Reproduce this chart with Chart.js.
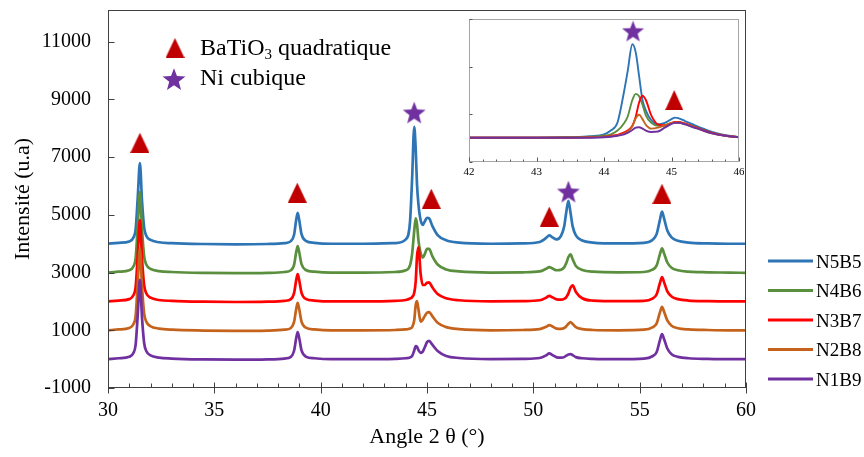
<!DOCTYPE html>
<html><head><meta charset="utf-8">
<script src="https://cdn.jsdelivr.net/npm/chart.js@4.4.0/dist/chart.umd.min.js"></script>
<style>
html,body{margin:0;padding:0;background:#fff;}
#wrap{position:relative;width:864px;height:457px;overflow:hidden;}
#main{position:absolute;left:0;top:0;}
#inset{position:absolute;left:440px;top:12px;}
</style></head><body>
<div id="wrap"><canvas id="main" width="864" height="457"></canvas><canvas id="inset" width="304" height="175"></canvas></div>
<script>
// ---------- DATA (main chart) ----------
const angles = [
 30.0, 30.5, 31.0, 31.2, 31.3, 31.4, 31.5, 31.6, 31.7, 31.8, 32.0, 32.4, 33.0, 34.5, 36.0,
 37.5, 38.3, 38.6, 38.75, 38.85, 38.92, 39.0, 39.1, 39.3, 39.7, 40.5,
 42.0, 43.5, 44.0, 44.2, 44.3, 44.4, 44.47, 44.53, 44.6, 44.7, 44.8, 44.9, 45.0, 45.1, 45.25, 45.5, 45.9, 46.5, 48.0, 49.5,
 50.3, 50.6, 50.75, 50.9, 51.1, 51.3, 51.45, 51.55, 51.65, 51.75, 51.85, 52.0, 52.3, 52.8, 54.0,
 55.2, 55.6, 55.8, 55.95, 56.05, 56.15, 56.3, 56.5, 56.8, 57.3, 58.2, 59.2, 60.0
];
const n5b5 = [
 4000, 4030, 4080, 4220, 4500, 5620, 6790, 5480, 4560, 4280, 4130, 4050, 4020, 3990, 3980,
 3990, 4020, 4090, 4310, 4830, 5070, 4780, 4330, 4100, 4030, 4000,
 4000, 4020, 4150, 4750, 6250, 8050, 7250, 6050, 5350, 4820, 4650, 4780, 4900, 4880, 4620, 4300, 4120, 4040, 4000, 4010,
 4060, 4200, 4290, 4220, 4150, 4270, 4600, 5100, 5490, 5070, 4600, 4290, 4110, 4040, 4010,
 4030, 4130, 4340, 4820, 5110, 4870, 4460, 4220, 4100, 4040, 4010, 4000, 4000
];
const n4b6 = [
 3000, 3030, 3080, 3220, 3500, 4620, 5800, 4470, 3560, 3280, 3130, 3050, 3020, 2990, 2980,
 2990, 3020, 3080, 3270, 3710, 3920, 3670, 3290, 3090, 3030, 3000,
 3000, 3020, 3080, 3250, 3650, 4450, 4880, 4680, 4100, 3680, 3520, 3650, 3820, 3820, 3570, 3280, 3110, 3040, 3000, 3010,
 3040, 3130, 3190, 3140, 3080, 3100, 3180, 3330, 3540, 3630, 3460, 3230, 3090, 3030, 3010,
 3020, 3100, 3250, 3630, 3840, 3660, 3350, 3170, 3080, 3030, 3010, 3000, 2990
];
const n3b7 = [
 2000, 2030, 2080, 2220, 2500, 3620, 4820, 3470, 2560, 2280, 2130, 2050, 2020, 1990, 1980,
 1990, 2020, 2080, 2290, 2740, 2950, 2700, 2300, 2090, 2030, 2000,
 2000, 2020, 2050, 2100, 2150, 2300, 2700, 3550, 3880, 2960, 2570, 2570, 2650, 2660, 2490, 2260, 2110, 2040, 2000, 2010,
 2040, 2130, 2190, 2140, 2070, 2060, 2090, 2150, 2280, 2480, 2560, 2330, 2110, 2030, 2010,
 2020, 2100, 2250, 2630, 2840, 2660, 2350, 2170, 2080, 2030, 2010, 2000, 2000
];
const n2b8 = [
 1000, 1030, 1080, 1220, 1500, 2660, 3840, 2500, 1580, 1300, 1140, 1060, 1020, 990, 980,
 990, 1020, 1080, 1290, 1740, 1950, 1700, 1300, 1090, 1030, 1000,
 1000, 1010, 1030, 1060, 1110, 1350, 1880, 2010, 1720, 1300, 1370, 1500, 1610, 1630, 1490, 1260, 1110, 1040, 1000, 1010,
 1040, 1120, 1180, 1130, 1060, 1050, 1080, 1140, 1230, 1280, 1220, 1110, 1040, 1010, 1000,
 1020, 1100, 1240, 1610, 1810, 1640, 1340, 1160, 1070, 1030, 1010, 1000, 1000
];
const n1b9 = [
 0, 30, 80, 220, 500, 1560, 2750, 1430, 560, 280, 130, 50, 20, -10, -20,
 -10, 20, 80, 290, 730, 940, 700, 300, 90, 30, 0,
 0, 10, 30, 60, 110, 300, 450, 430, 310, 220, 260, 420, 590, 630, 500, 280, 110, 40, 0, 10,
 40, 130, 200, 140, 60, 50, 70, 120, 160, 175, 140, 70, 30, 10, 0,
 20, 100, 250, 650, 870, 690, 370, 170, 80, 30, 10, 0, 0
];
const seriesNames = ['N5B5', 'N4B6', 'N3B7', 'N2B8', 'N1B9'];
const xTicks = [30, 35, 40, 45, 50, 55, 60];
const yTicks = [-1000, 1000, 3000, 5000, 7000, 9000, 11000];
// peak markers (BaTiO3 triangles, Ni stars)
const batioX = [31.5, 38.9, 45.2, 50.75, 56.05];
const batioY = [7500, 5770, 5560, 4940, 5730];
const niX = [44.4, 51.65];
const niY = [8550, 5810];

// ---------- DATA (inset, 42-46 deg) ----------
const insetAngles = [42.0, 42.5, 43.0, 43.5, 43.8, 44.0, 44.1, 44.2, 44.3, 44.35, 44.42, 44.47, 44.52, 44.57, 44.62, 44.7, 44.8, 44.9, 45.0, 45.05, 45.1, 45.2, 45.3, 45.45, 45.6, 45.8, 46.0];
const insN5B5 = [0.51, 0.51, 0.51, 0.52, 0.54, 0.58, 0.66, 0.83, 1.50, 1.90, 2.47, 2.30, 1.80, 1.30, 1.08, 0.88, 0.79, 0.82, 0.90, 0.93, 0.92, 0.86, 0.80, 0.71, 0.63, 0.56, 0.52];
const insN4B6 = [0.51, 0.51, 0.51, 0.52, 0.53, 0.55, 0.58, 0.66, 0.82, 0.95, 1.30, 1.43, 1.38, 1.20, 0.98, 0.82, 0.76, 0.76, 0.81, 0.83, 0.83, 0.80, 0.76, 0.68, 0.61, 0.55, 0.52];
const insN3B7 = [0.51, 0.51, 0.51, 0.51, 0.52, 0.53, 0.55, 0.57, 0.62, 0.66, 0.76, 0.95, 1.25, 1.39, 1.30, 0.98, 0.79, 0.77, 0.82, 0.84, 0.84, 0.81, 0.76, 0.68, 0.61, 0.55, 0.52];
const insN2B8 = [0.51, 0.51, 0.51, 0.51, 0.52, 0.53, 0.54, 0.56, 0.60, 0.64, 0.75, 0.92, 0.99, 0.90, 0.78, 0.70, 0.72, 0.77, 0.82, 0.83, 0.83, 0.80, 0.75, 0.67, 0.60, 0.55, 0.52];
const insN1B9 = [0.51, 0.51, 0.51, 0.51, 0.51, 0.52, 0.53, 0.55, 0.58, 0.61, 0.67, 0.72, 0.73, 0.70, 0.66, 0.63, 0.64, 0.72, 0.80, 0.82, 0.82, 0.79, 0.74, 0.67, 0.60, 0.55, 0.52];
const insetXTicks = [42, 43, 44, 45, 46];
const insetYTicks = [0, 1, 2, 3];
const insetStarX = [44.43], insetStarY = [2.75];
const insetTriX = [45.04], insetTriY = [1.30];

// ---------- STYLE ----------
const FONT = "'Liberation Serif', 'Times New Roman', serif";
const colors = ['#2E75B6', '#5A8F3E', '#FF0000', '#C5621C', '#7030A0'];
const TRI_COLOR = '#C00000', STAR_COLOR = '#7030A0';

function makeTriangle(w, h, color) {
  const c = document.createElement('canvas'); c.width = w; c.height = h;
  const g = c.getContext('2d'); g.fillStyle = color;
  g.beginPath(); g.moveTo(w / 2, 0); g.lineTo(w, h); g.lineTo(0, h); g.closePath(); g.fill();
  return c;
}
function makeStar(size, color) {
  const c = document.createElement('canvas'); c.width = size; c.height = size;
  const g = c.getContext('2d'); g.fillStyle = color;
  const R = size / 2, r = R * 0.42, cx = size / 2, cy = size / 2 + R * 0.1;
  g.beginPath();
  for (let i = 0; i < 10; i++) {
    const rad = (i % 2 === 0) ? R : r;
    const ang = -Math.PI / 2 + i * Math.PI / 5;
    const px = cx + rad * Math.cos(ang), py = cy + rad * Math.sin(ang);
    if (i === 0) g.moveTo(px, py); else g.lineTo(px, py);
  }
  g.closePath(); g.fill();
  return c;
}
const triImg = makeTriangle(19, 20, TRI_COLOR);
const starImg = makeStar(24, STAR_COLOR);
const triImgSmall = makeTriangle(18, 20, TRI_COLOR);
const starImgSmall = makeStar(23, STAR_COLOR);
const triLegend = makeTriangle(19, 20, TRI_COLOR);
const starLegend = makeStar(24, STAR_COLOR);

const pts = (xs, ys) => xs.map((v, i) => ({ x: v, y: ys[i] }));
const noPadX = s => { s.paddingLeft = 0; s.paddingRight = 0; };
const noPadY = s => { s.paddingTop = 0; s.paddingBottom = 0; };

// ---------- MAIN CHART ----------
const mainSeries = [n5b5, n4b6, n3b7, n2b8, n1b9];
const mainDatasets = mainSeries.map((vals, i) => ({
  type: 'line', label: seriesNames[i], data: pts(angles, vals),
  borderColor: colors[i], backgroundColor: colors[i], borderWidth: 2.7,
  pointRadius: 0, cubicInterpolationMode: 'monotone', order: 4 - i + 1
}));
mainDatasets.push({
  type: 'scatter', label: 'BaTiO3', data: pts(batioX, batioY), pointStyle: triImg,
  pointRadius: 10, order: 0, clip: false
});
mainDatasets.push({
  type: 'scatter', label: 'Ni', data: pts(niX, niY), pointStyle: starImg,
  pointRadius: 12, order: 0, clip: false
});

const mainDeco = {
  id: 'mainDeco',
  afterDraw(chart) {
    const { ctx, chartArea: a, scales: { x, y } } = chart;
    ctx.save();
    ctx.strokeStyle = '#404040'; ctx.lineWidth = 1;
    const L = Math.round(a.left) + 0.5, R = Math.round(a.right) - 0.5;
    const T = Math.round(a.top) + 0.5, B = Math.round(a.bottom) - 0.5;
    ctx.strokeRect(L, T, R - L, B - T);
    ctx.beginPath();
    yTicks.forEach(v => { const p = Math.round(y.getPixelForValue(v)) + 0.5; ctx.moveTo(L, p); ctx.lineTo(L + 6, p); });
    for (let v = x.min; v <= x.max; v += 1) {
      const p = Math.round(x.getPixelForValue(v)) + 0.5;
      if (v % 5 === 0) { ctx.moveTo(p, B - 5); ctx.lineTo(p, B + 6); }
      else { ctx.moveTo(p, B - 4); ctx.lineTo(p, B); }
    }
    ctx.stroke();
    // series legend (right)
    ctx.font = '19px ' + FONT; ctx.fillStyle = '#000'; ctx.textBaseline = 'alphabetic';
    seriesNames.forEach((name, i) => {
      const yy = 261 + i * 29.5;
      ctx.strokeStyle = colors[i]; ctx.lineWidth = 3;
      ctx.beginPath(); ctx.moveTo(768, yy); ctx.lineTo(813, yy); ctx.stroke();
      ctx.fillText(name, 816, yy + 6.5);
    });
    // marker legend (top-left)
    ctx.drawImage(triLegend, 175 - 9.5, 48 - 10);
    ctx.drawImage(starLegend, 174 - 12, 79 - 12);
    ctx.font = '24px ' + FONT;
    ctx.fillText('BaTiO', 200, 55);
    let w = ctx.measureText('BaTiO').width;
    ctx.font = '15px ' + FONT;
    ctx.fillText('3', 200 + w, 59);
    w += ctx.measureText('3').width;
    ctx.font = '24px ' + FONT;
    ctx.fillText(' quadratique', 200 + w, 55);
    ctx.fillText('Ni cubique', 200, 85);
    ctx.restore();
  }
};

new Chart(document.getElementById('main'), {
  data: { datasets: mainDatasets },
  options: {
    responsive: false, animation: false,
    layout: { autoPadding: false, padding: { top: 10, right: 118, left: 0, bottom: 0 } },
    plugins: { legend: { display: false }, tooltip: { enabled: false } },
    scales: {
      x: {
        type: 'linear', min: 30, max: 60,
        afterBuildTicks: s => { s.ticks = xTicks.map(v => ({ value: v })); },
        afterFit: s => { s.height = 69; noPadX(s); },
        grid: { display: false, drawTicks: false }, border: { display: false },
        ticks: { font: { family: FONT, size: 20 }, color: '#000', padding: 11, maxRotation: 0, autoSkip: false, callback: v => String(v) },
        title: { display: true, text: 'Angle 2 θ (°)', font: { family: FONT, size: 22 }, color: '#000', padding: { top: 0, bottom: 7 } }
      },
      y: {
        type: 'linear', min: -1000, max: 12100,
        afterBuildTicks: s => { s.ticks = yTicks.map(v => ({ value: v })); },
        afterFit: s => { s.width = 108; noPadY(s); },
        grid: { display: false, drawTicks: false }, border: { display: false },
        ticks: { font: { family: FONT, size: 20 }, color: '#000', padding: 17, autoSkip: false, callback: v => String(v) },
        title: { display: true, text: 'Intensité (u.a)', font: { family: FONT, size: 22 }, color: '#000', padding: { top: 10, bottom: 0 } }
      }
    }
  },
  plugins: [mainDeco]
});

// ---------- INSET CHART ----------
const insetSeries = [insN5B5, insN4B6, insN3B7, insN2B8, insN1B9];
const insetDatasets = insetSeries.map((vals, i) => ({
  type: 'line', label: seriesNames[i], data: pts(insetAngles, vals),
  borderColor: colors[i], backgroundColor: colors[i], borderWidth: 1.9,
  pointRadius: 0, cubicInterpolationMode: 'monotone', order: 4 - i + 1
}));
insetDatasets.push({ type: 'scatter', data: pts(insetStarX, insetStarY), pointStyle: starImgSmall, pointRadius: 11, order: 0, clip: false });
insetDatasets.push({ type: 'scatter', data: pts(insetTriX, insetTriY), pointStyle: triImgSmall, pointRadius: 10, order: 0, clip: false });

const insetDeco = {
  id: 'insetDeco',
  beforeDatasetsDraw(chart) {
    const { ctx, chartArea: a } = chart;
    ctx.save(); ctx.fillStyle = '#fff'; ctx.fillRect(a.left, a.top, a.right - a.left, a.bottom - a.top); ctx.restore();
  },
  afterDraw(chart) {
    const { ctx, chartArea: a, scales: { x, y } } = chart;
    ctx.save();
    const L = Math.round(a.left) + 0.5, R = Math.round(a.right) - 0.5;
    const T = Math.round(a.top) + 0.5, B = Math.round(a.bottom) - 0.5;
    ctx.strokeStyle = '#A6A6A6'; ctx.lineWidth = 1;
    ctx.strokeRect(L, T, R - L, B - T);
    ctx.strokeStyle = '#595959';
    ctx.beginPath();
    for (let k = 0; k <= 20; k++) {
      const v = x.min + k * 0.2;
      const p = Math.round(x.getPixelForValue(v)) + 0.5;
      const len = (k % 5 === 0) ? 4 : 2;
      ctx.moveTo(p, B); ctx.lineTo(p, B - len);
    }
    insetYTicks.forEach(v => { const p = Math.round(y.getPixelForValue(v)) + 0.5; ctx.moveTo(L, p); ctx.lineTo(L + 3, p); });
    ctx.stroke();
    ctx.restore();
  }
};

new Chart(document.getElementById('inset'), {
  data: { datasets: insetDatasets },
  options: {
    responsive: false, animation: false,
    layout: { autoPadding: false, padding: { top: 7, right: 5, left: 0, bottom: 0 } },
    plugins: { legend: { display: false }, tooltip: { enabled: false } },
    scales: {
      x: {
        type: 'linear', min: 42, max: 46,
        afterBuildTicks: s => { s.ticks = insetXTicks.map(v => ({ value: v })); },
        afterFit: s => { s.height = 25; noPadX(s); },
        grid: { display: false, drawTicks: false }, border: { display: false },
        ticks: { font: { family: FONT, size: 11 }, color: '#000', padding: 4, maxRotation: 0, autoSkip: false, callback: v => String(v) }
      },
      y: {
        type: 'linear', min: 0, max: 3,
        afterBuildTicks: s => { s.ticks = insetYTicks.map(v => ({ value: v })); },
        afterFit: s => { s.width = 29; noPadY(s); },
        grid: { display: false, drawTicks: false }, border: { display: false },
        ticks: { display: false }
      }
    }
  },
  plugins: [insetDeco]
});
</script>
</body></html>
